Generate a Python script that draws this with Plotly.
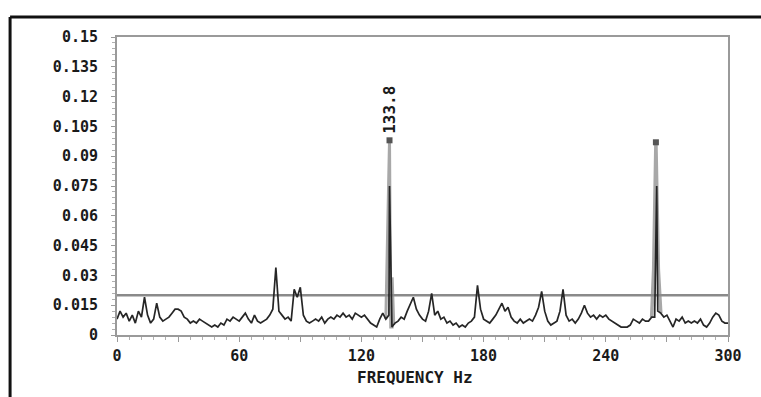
import numpy as np
import plotly.graph_objects as go

# Spectrum on a 1.5 Hz bin grid, 0..300 Hz
bin_step_hz = 1.5
amplitude = [
    0.008, 0.012, 0.009, 0.011, 0.007, 0.010, 0.006, 0.012, 0.009, 0.019,
    0.010, 0.006, 0.008, 0.016, 0.009, 0.007, 0.008, 0.009, 0.011, 0.013,
    0.013, 0.012, 0.009, 0.008, 0.006, 0.007, 0.006, 0.008, 0.007, 0.006,
    0.005, 0.004, 0.005, 0.004, 0.006, 0.005, 0.008, 0.007, 0.009, 0.008,
    0.007, 0.009, 0.011, 0.008, 0.006, 0.010, 0.007, 0.006, 0.007, 0.008,
    0.010, 0.013, 0.034, 0.012, 0.010, 0.008, 0.009, 0.007, 0.023, 0.019,
    0.024, 0.010, 0.007, 0.006, 0.007, 0.008, 0.007, 0.009, 0.006, 0.008,
    0.009, 0.008, 0.010, 0.009, 0.011, 0.009, 0.010, 0.008, 0.011, 0.010,
    0.009, 0.010, 0.008, 0.006, 0.005, 0.004, 0.008, 0.011, 0.008, 0.010,
    0.004, 0.006, 0.007, 0.009, 0.008, 0.012, 0.016, 0.019, 0.013, 0.010,
    0.008, 0.007, 0.012, 0.021, 0.010, 0.012, 0.008, 0.009, 0.006, 0.007,
    0.005, 0.006, 0.004, 0.005, 0.004, 0.006, 0.007, 0.009, 0.025, 0.013,
    0.008, 0.007, 0.006, 0.008, 0.010, 0.013, 0.016, 0.012, 0.014, 0.009,
    0.007, 0.006, 0.008, 0.006, 0.007, 0.008, 0.007, 0.010, 0.014, 0.022,
    0.012, 0.007, 0.005, 0.006, 0.007, 0.012, 0.023, 0.010, 0.007, 0.008,
    0.006, 0.008, 0.011, 0.015, 0.011, 0.009, 0.010, 0.008, 0.010, 0.009,
    0.010, 0.008, 0.007, 0.006, 0.005, 0.004, 0.004, 0.004, 0.005, 0.008,
    0.007, 0.006, 0.008, 0.007, 0.007, 0.009, 0.009, 0.012, 0.011, 0.009,
    0.010, 0.007, 0.004, 0.008, 0.007, 0.009, 0.006, 0.007, 0.006, 0.007,
    0.006, 0.008, 0.005, 0.004, 0.006, 0.009, 0.011, 0.010, 0.007, 0.006,
    0.006,
]

# Discrete tones sitting between bins
tone_freq = [133.8, 265.0]
tone_amp = [0.075, 0.075]

# Peak-hold envelope around the two tones
hold1_freq = [132.0, 133.8, 134.4, 135.1, 135.1, 135.9]
hold1_amp = [0.008, 0.098, 0.004, 0.004, 0.029, 0.005]
hold2_freq = [262.5, 263.5, 264.6, 265.8, 267.0]
hold2_amp = [0.009, 0.033, 0.097, 0.033, 0.011]

peak_label = "133.8"
alarm_level = 0.02

y_ticks = [0, 0.015, 0.03, 0.045, 0.06, 0.075, 0.09, 0.105, 0.12, 0.135, 0.15]
y_tick_text = ["0", "0.015", "0.03", "0.045", "0.06", "0.075", "0.09",
               "0.105", "0.12", "0.135", "0.15"]
x_ticks = [0, 30, 60, 90, 120, 150, 180, 210, 240, 270, 300]
x_tick_text = ["0", "", "60", "", "120", "", "180", "", "240", "", "300"]

# merge the grid with the tones
grid_freq = [round(i * bin_step_hz, 2) for i in range(len(amplitude))]
pairs = sorted(list(zip(grid_freq, amplitude)) + list(zip(tone_freq, tone_amp)))
spec_freq = [p[0] for p in pairs]
spec_amp = [p[1] for p in pairs]

FONT = "DejaVu Sans Mono"
INK = "#1a1a1a"
FRAME = "#9a9a9a"

fig = go.Figure()

fig.add_trace(go.Scatter(x=hold1_freq, y=hold1_amp, mode="lines",
                         line=dict(color="#a8a8a8", width=3), hoverinfo="skip"))
fig.add_trace(go.Scatter(x=hold2_freq, y=hold2_amp, mode="lines",
                         line=dict(color="#a8a8a8", width=3.5), hoverinfo="skip"))

fig.add_trace(go.Scatter(x=[0, 300], y=[alarm_level, alarm_level], mode="lines",
                         line=dict(color="#8a8a8a", width=2.5), hoverinfo="skip"))

fig.add_trace(go.Scatter(x=spec_freq, y=spec_amp, mode="lines",
                         line=dict(color="#262626", width=1.7)))

fig.add_trace(go.Scatter(x=[hold1_freq[1], hold2_freq[2]],
                         y=[hold1_amp[1], hold2_amp[2]], mode="markers",
                         marker=dict(symbol="square", size=6, color="#555555")))

fig.add_annotation(x=hold1_freq[1], y=hold1_amp[1], text=f"<b>{peak_label}</b>",
                   showarrow=False, textangle=-90, yanchor="bottom", xanchor="center",
                   yshift=4, font=dict(family=FONT, size=16, color=INK))

fig.add_annotation(x=0.488, y=-0.144, xref="paper", yref="paper",
                   text="<b>FREQUENCY Hz</b>", showarrow=False,
                   xanchor="center", yanchor="middle",
                   font=dict(family=FONT, size=16, color=INK))

# outer box of the page
fig.add_shape(type="line", xref="paper", yref="paper",
              x0=-0.175, x1=1.1, y0=1.067, y1=1.067,
              line=dict(color="#111111", width=3))
fig.add_shape(type="line", xref="paper", yref="paper",
              x0=-0.175, x1=-0.175, y0=1.067, y1=-0.3,
              line=dict(color="#111111", width=3))

fig.update_layout(
    width=761, height=397,
    margin=dict(l=117, r=33, t=37, b=62),
    paper_bgcolor="white", plot_bgcolor="white",
    showlegend=False,
    xaxis=dict(range=[0, 300], tickvals=x_ticks, ticktext=x_tick_text,
               ticks="outside", ticklen=5, tickcolor=FRAME, tickwidth=1,
               minor=dict(dtick=6, ticks="outside", ticklen=3, tickcolor="#b0b0b0"),
               showline=True, linecolor=FRAME, linewidth=2, mirror=True,
               showgrid=False, zeroline=False, ticklabelstandoff=1,
               tickfont=dict(family=FONT, size=15, color=INK, weight="bold")),
    yaxis=dict(range=[0, 0.15], tickvals=y_ticks, ticktext=y_tick_text,
               ticks="outside", ticklen=4, tickcolor=FRAME, tickwidth=1,
               minor=dict(dtick=0.003, ticks="outside", ticklen=3, tickcolor="#b0b0b0"),
               showline=True, linecolor=FRAME, linewidth=2, mirror=True,
               showgrid=False, zeroline=False, ticklabelstandoff=10,
               tickfont=dict(family=FONT, size=15, color=INK, weight="bold")),
)

fig.write_html("out.html")
